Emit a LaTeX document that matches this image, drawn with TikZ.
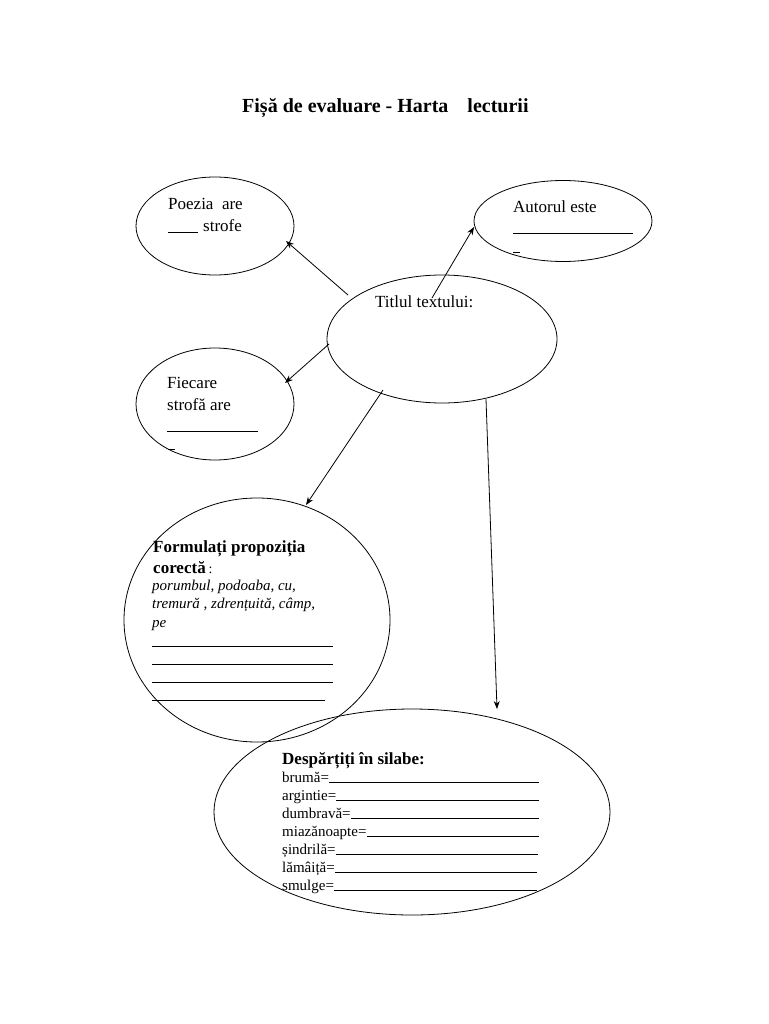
\documentclass[tikz,border=0pt]{standalone}
\usepackage{fontspec}
\setmainfont{Liberation Serif}
\usetikzlibrary{shapes.geometric,arrows.meta}
\begin{document}
\begin{tikzpicture}[x=1pt,y=-1pt,
  bub/.style={draw,ellipse,inner sep=0pt,line width=0.8pt},
  txt/.style={anchor=base west,inner sep=0pt,font=\fontsize{17}{20}\selectfont},
  btxt/.style={anchor=base west,inner sep=0pt,font=\fontsize{17}{20}\selectfont\bfseries},
  small/.style={anchor=base west,inner sep=0pt,font=\fontsize{15}{18}\selectfont},
  itxt/.style={anchor=base west,inner sep=0pt,font=\fontsize{15}{18}\selectfont\itshape},
  arr/.style={-{Stealth[length=8pt,width=6pt]},line width=0.8pt},
  blank/.style={line width=0.8pt}]
\useasboundingbox (0,0) rectangle (768,1024);
\fill[white] (0,0) rectangle (768,1024);

% title
\node[anchor=base west,inner sep=0pt,font=\fontsize{20}{24}\selectfont\bfseries] (title) at (242,113) {Fișă de evaluare - Harta\hspace{0.95em}lecturii};

% ellipses
\node[bub,minimum width=158pt,minimum height=98pt] (poezia) at (215,226) {};
\node[bub,minimum width=178pt,minimum height=81pt] (autor) at (563,221) {};
\node[bub,minimum width=230pt,minimum height=128pt] (titlu) at (442,339) {};
\node[bub,minimum width=158pt,minimum height=112pt] (fiecare) at (215,404) {};
\node[bub,minimum width=266pt,minimum height=244pt] (formulati) at (257,620) {};
\node[bub,minimum width=396pt,minimum height=206pt] (despartiti) at (412,812) {};

% connector end points
\coordinate (t1) at (348,295);
\coordinate (t2) at (432,298);
\coordinate (t3) at (329,344);
\coordinate (t4) at (383,390);
\coordinate (t5) at (486,399);
\coordinate (p1) at (286,241);
\coordinate (a1) at (474,227);
\coordinate (f1) at (285,383);
\coordinate (fo1) at (306,505);
\coordinate (d1) at (497,709);

\draw[arr] (t1) -- (p1);
\draw[arr] (t2) -- (a1);
\draw[arr] (t3) -- (f1);
\draw[arr] (t4) -- (fo1);
\draw[arr] (t5) -- (d1);

% Poezia
\node[txt] (pz1) at (168,210) {Poezia\ \ are};
\node[txt] (pz2) at (203,232) {strofe};
\draw[blank] (168,232) -- (198,232);

% Autorul
\node[txt] (au1) at (513,213) {Autorul este};
\draw[blank] (513,233) -- (633,233);
\draw[blank] (513,252) -- (520,252);

% Titlul
\node[txt] (ti1) at (375,307) {Titlul textului:};

% Fiecare
\node[txt] (fi1) at (167,388) {Fiecare};
\node[txt] (fi2) at (167,410) {strofă are};
\draw[blank] (167,431) -- (258,431);
\draw[blank] (168,449) -- (175,449);

% Formulati
\node[btxt] (fo1t) at (153,552) {Formulați propoziția};
\node[btxt] (fo2t) at (153,573) {corectă\,\mdseries\fontsize{14}{16}\selectfont:};
\node[itxt] (fo3t) at (152,590) {porumbul, podoaba, cu,};
\node[itxt] (fo4t) at (152,608) {tremură , zdrențuită, câmp,};
\node[itxt] (fo5t) at (152,627) {pe};
\draw[blank] (152,646) -- (333,646);
\draw[blank] (152,664) -- (333,664);
\draw[blank] (152,682) -- (333,682);
\draw[blank] (152,700) -- (325,700);

% Despartiti
\node[btxt] (dh) at (282,764) {Despărțiți în silabe:};
\node[small] (w1) at (282,782) {brumă=};
\node[small] (w2) at (282,800) {argintie=};
\node[small] (w3) at (282,818) {dumbravă=};
\node[small] (w4) at (282,836) {miazănoapte=};
\node[small] (w5) at (282,854) {șindrilă=};
\node[small] (w6) at (282,872) {lămâiță=};
\node[small] (w7) at (282,890) {smulge=};
\draw[blank] (w1.base east) -- (539,782);
\draw[blank] (w2.base east) -- (539,800);
\draw[blank] (w3.base east) -- (539,818);
\draw[blank] (w4.base east) -- (539,836);
\draw[blank] (w5.base east) -- (538,854);
\draw[blank] (w6.base east) -- (537,872);
\draw[blank] (w7.base east) -- (537,890);
\end{tikzpicture}
\end{document}
